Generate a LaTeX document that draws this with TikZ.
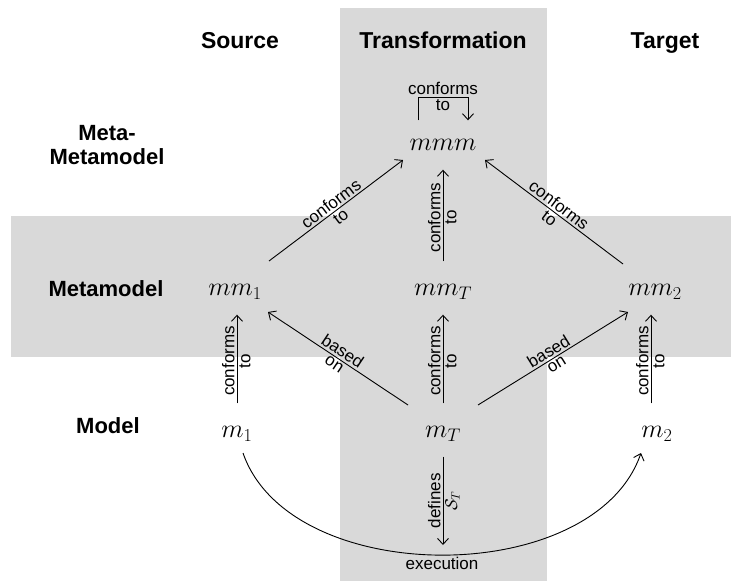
\RequirePackage{fix-cm}
\documentclass[tikz,border=0pt]{standalone}
\usepackage{fontspec}
\setmainfont{Liberation Sans}
\usetikzlibrary{arrows.meta}

\begin{document}
\begin{tikzpicture}[x=1pt,y=-1pt,
  band/.style={fill=black!15, draw=none},
  hdr/.style={font=\fontsize{23}{24}\selectfont\bfseries, inner sep=0pt},
  rowhdr/.style={font=\fontsize{22}{24}\selectfont\bfseries, inner sep=0pt},
  obj/.style={font=\fontsize{26}{30}\selectfont, text height=11pt, text depth=0pt,
              inner ysep=19pt, inner xsep=6pt},
  lbl/.style={font=\fontsize{17}{19}\selectfont, inner sep=2pt},
  arr/.style={-{Straight Barb[length=6pt,width=11pt]}, line width=0.9pt},
  up/.style={arr, shorten <=4pt},
]
\useasboundingbox (0,0) rectangle (731,581);

% shaded column and row
\fill[band] (340,8) rectangle (547,581);
\fill[band] (11,216) rectangle (731,357);

% column and row headings
\node[hdr, anchor=base] (hsrc) at (240,48) {Source};
\node[hdr, anchor=base] (htr)  at (443,48) {Transformation};
\node[hdr, anchor=base] (htg)  at (665,48) {Target};
\node[rowhdr, align=center] (rmm) at (107,145) {Meta-\\Metamodel};
\node[rowhdr, anchor=base] (rm)   at (106,296) {Metamodel};
\node[rowhdr, anchor=base] (rmod) at (108,433) {Model};

% models
\node[obj] (mmm) at (443,145) {$mmm$};
\node[obj] (mm1) at (235,290) {$mm_1$};
\node[obj] (mmT) at (443,290) {$mm_T$};
\node[obj] (mm2) at (655,290) {$mm_2$};
\node[obj] (m1)  at (237,432) {$m_1$};
\node[obj] (mT)  at (443,432) {$m_T$};
\node[obj] (m2)  at (657,432) {$m_2$};

% self conformance of the meta-metamodel
\draw[arr] ([xshift=-25pt]mmm.north) -- ++(0,-23) -| ([xshift=25pt]mmm.north)
  node[pos=0.25, above, lbl] {conforms}
  node[pos=0.25, below, lbl] {to};

% metamodels conform to mmm
\draw[arr] ([shift={(34,-29)}]mm1.center) -- ([shift={(-40,15)}]mmm.center)
  node[midway, sloped, above, lbl] {conforms}
  node[midway, sloped, below, lbl] {to};
\draw[arr] ([shift={(-32,-26)}]mm2.center) -- ([shift={(42,15)}]mmm.center)
  node[midway, sloped, above, lbl] {conforms}
  node[midway, sloped, below, lbl] {to};
\draw[up] (mmT.north) -- (mmT.north |- mmm.south)
  node[midway, rotate=90, anchor=south, lbl] {conforms}
  node[midway, rotate=90, anchor=north, lbl] {to};

% models conform to metamodels
\draw[up] (m1.north) -- (m1.north |- mm1.south)
  node[midway, rotate=90, anchor=south, lbl] {conforms}
  node[midway, rotate=90, anchor=north, lbl] {to};
\draw[up] (mT.north) -- (mT.north |- mmT.south)
  node[midway, rotate=90, anchor=south, lbl] {conforms}
  node[midway, rotate=90, anchor=north, lbl] {to};
\draw[up] ([xshift=-6pt]m2.north) -- ([xshift=-6pt]m2.north |- mm2.south)
  node[midway, rotate=90, anchor=south, lbl] {conforms}
  node[midway, rotate=90, anchor=north, lbl] {to};

% transformation model based on source and target metamodels
\draw[arr] ([shift={(-35,-27)}]mT.center) -- ([shift={(33,22)}]mm1.center)
  node[midway, sloped, above, lbl] {based}
  node[midway, sloped, below, lbl] {on};
\draw[arr] ([shift={(35,-27)}]mT.center) -- ([shift={(-27,22)}]mm2.center)
  node[midway, sloped, above, lbl] {based}
  node[midway, sloped, below, lbl] {on};

% semantics of the transformation
\coordinate (sT) at (443,545);
\draw[arr] (mT.south) -- (sT)
  node[midway, rotate=90, anchor=south, lbl] {defines}
  node[midway, rotate=90, anchor=north, lbl] {$\mathcal{S}_T$};

% execution from m1 to m2
\draw[arr] ([shift={(6,21)}]m1.center) .. controls +(47,136) and +(-47,136) .. ([shift={(-16,21)}]m2.center)
  node[pos=0.5, below, lbl] {execution};
\end{tikzpicture}
\end{document}
